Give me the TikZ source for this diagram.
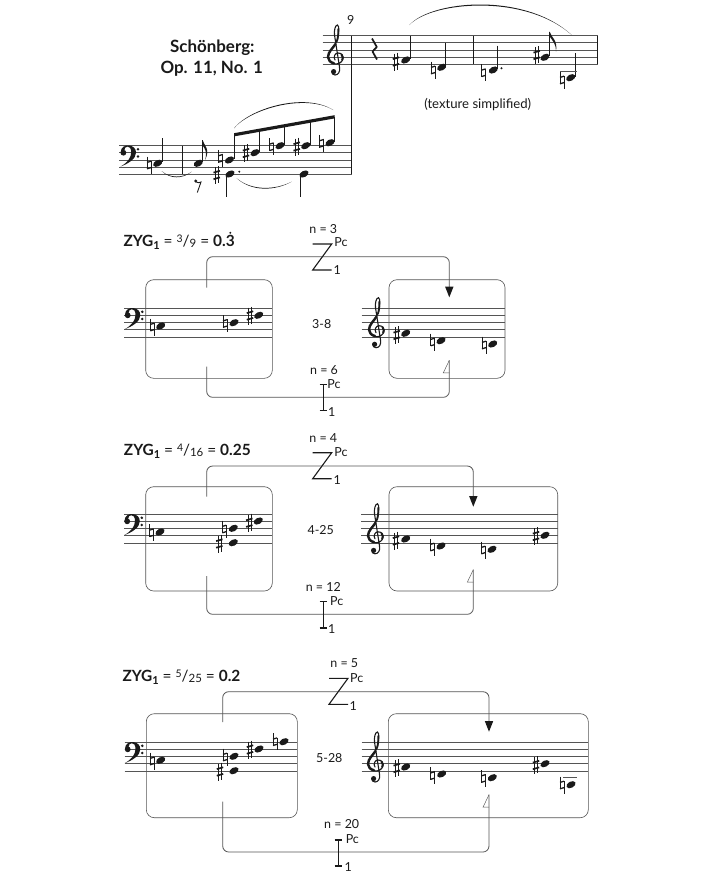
\documentclass[tikz,border=0pt]{standalone}
\usepackage{fontspec}
\setmainfont{Lato}
\usetikzlibrary{arrows.meta,calc}
\definecolor{ink}{HTML}{1A1A1A}
\definecolor{rule}{HTML}{555555}
\newcommand{\fs}[1]{\fontsize{#1}{#1}\selectfont}
% --- music glyphs (all in reference pixels) ---
\newcommand{\staffat}[3]{\foreach \k in {0,1,2,3,4}{\draw[staffline] (#1,#2+7.15*\k) -- (#3,#2+7.15*\k);}}
\newcommand{\notehead}[2]{\fill[ink,shift={(#1,#2)},rotate=28] (0,0) ellipse [x radius=4.9bp,y radius=3.1bp];}
\newcommand{\sharpm}[2]{\begin{scope}[shift={(#1,#2)}]
 \draw[ink,line width=.6bp] (-1.5,-8) -- (-1.5,9) (1.5,-9) -- (1.5,8);
 \draw[ink,line width=1.7bp] (-3.2,-2.4) -- (3.2,-4.2) (-3.2,4.2) -- (3.2,2.4);
 \end{scope}}
\newcommand{\naturalm}[2]{\begin{scope}[shift={(#1,#2)}]
 \draw[ink,line width=.6bp] (-2,-8.5) -- (-2,4.2) (2,-4.2) -- (2,8.5);
 \draw[ink,line width=1.3bp] (-2,-2.6) -- (2,-3.8) (-2,3.8) -- (2,2.6);
 \end{scope}}
\newcommand{\stemm}[3]{\draw[stemline] (#1,#2) -- (#1,#3);}
\newcommand{\trebleclef}[2]{\begin{scope}[shift={(#1,#2)}]
 \draw[ink,line width=1.1bp,line cap=round] (-1,3) .. controls (-3,0) and (-1,-4) .. (2,-4) .. controls (6,-4) and (7.5,-1) .. (7,1.5) .. controls (6.5,5) and (3,7) .. (0,7) .. controls (-5,7) and (-8,4) .. (-8,0) .. controls (-8,-6) and (-1,-11) .. (1,-16) .. controls (3,-21) and (3.5,-32) .. (1.5,-32) .. controls (-1,-32) and (-2,-26) .. (-1.5,-22) -- (3.5,10) .. controls (4.5,15) and (2,18) .. (-1,18) .. controls (-3,18) and (-4.5,16.5) .. (-4,14.5);
 \draw[ink,line width=2.4bp,line cap=round] (-2,6.3) .. controls (-5.5,5.5) and (-8,3) .. (-8,0) .. controls (-8,-5) and (-3,-9) .. (-.5,-13);
 \draw[ink,line width=2bp,line cap=round] (5.5,-2.5) .. controls (7,-.5) and (7.2,1) .. (6.2,3);
 \draw[ink,line width=1.8bp,line cap=round] (2.2,-28) .. controls (2.6,-24) and (2,-20) .. (1,-16);
 \fill[ink] (-2.4,14.6) circle [radius=2.6bp];
 \end{scope}}
\newcommand{\bassclef}[2]{\begin{scope}[shift={(#1,#2)}]
 \fill[ink] (1.2,7) .. controls (1,1) and (6,-.6) .. (9.5,-.2) .. controls (14,.3) and (16.5,3) .. (16.5,7) .. controls (16.5,13) and (9,18) .. (1,20.8) .. controls (8,17) and (11.7,12) .. (11.7,6.5) .. controls (11.7,2.5) and (10,.9) .. (8,.9) .. controls (6,.9) and (4.8,2.6) .. (5,4.2) -- cycle;
 \fill[ink] (3.9,7) circle [radius=2.9bp];
 \fill[ink] (18.5,3.5) circle [radius=1.4bp] (18.5,10.7) circle [radius=1.4bp];
 \end{scope}}
\newcommand{\slurm}[5]{\fill[ink] #1 .. controls #2 and #3 .. #4 .. controls ($#3+#5$) and ($#2+#5$) .. #1;}
% --- diagram parts ---
\newcommand{\zigzagsign}[4]{% id, x left, y top, y bottom
 \coordinate (#1a) at (#2,#3); \coordinate (#1b) at (#2+19,#3);
 \coordinate (#1c) at (#2,#4); \coordinate (#1d) at (#2+19,#4);
 \draw[sign,line join=miter] (#1a) -- (#1b) -- (#1c) -- (#1d);}
\newcommand{\ibeam}[4]{% id, x centre, y top, y bottom
 \coordinate (#1a) at (#2,#3); \coordinate (#1b) at (#2,#4);
 \draw[sign] (#1a) -- (#1b);
 \draw[sign] ($(#1a)+(-3.8,0)$) -- ($(#1a)+(3.8,0)$);
 \draw[sign] ($(#1b)+(-3.8,0)$) -- ($(#1b)+(3.8,0)$);}
\newcommand{\links}[8]{% id, xl, xr, y top run, y start top, y tip, y start bottom, y bottom run
 \coordinate (#1s) at (#2,#5); \coordinate (#1k) at (#3,#4); \coordinate (#1t) at (#3,#6);
 \draw[link,rounded corners=6bp] (#1s) |- (#1k) -- ($(#1t)+(0,-10)$);
 \fill[ink] (#1t) -- ($(#1t)+(-4.2,-10.6)$) -- ($(#1t)+(4.2,-10.6)$) -- cycle;
 \coordinate (#1u) at (#2,#7); \coordinate (#1v) at (#3,#8); \coordinate (#1w) at (#3,#6+63);
 \draw[link,rounded corners=6bp] (#1u) |- (#1v) -- (#1w);
 \draw[thinhead] (#1w) -- ($(#1w)+(-6,12.5)$) -- ($(#1w)+(0,12.5)$);}
\tikzset{
 staffline/.style={rule,line width=.75bp},
 stemline/.style={ink,line width=.6bp},
 panel/.style={draw=rule,line width=.6bp,rounded corners=8bp,inner sep=0pt,fill=none},
 link/.style={rule,line width=.8bp},
 sign/.style={ink,line width=1.1bp},
 thinhead/.style={rule,line width=.45bp},
 lab/.style={inner sep=0pt,text=ink,font=\fs{12.5}},
 zyg/.style={inner sep=0pt,anchor=west,text=ink,font=\fs{15.5}},
}
\newcommand{\zygline}[3]{{\bfseries ZYG\raisebox{-3pt}{\fs{11}1}} = \raisebox{3.5pt}{\fs{10.5}#1}/\raisebox{-1pt}{\fs{11.5}#2} = {\bfseries #3}}
\begin{document}
\begin{tikzpicture}[x=1bp,y=-1bp]
\useasboundingbox (0,0) rectangle (720,880);
\fill[white] (0,0) rectangle (720,880);
% ===== excerpt =====
\node[inner sep=0pt,text=ink,font=\fs{17}\bfseries] (t1) at (212.3,47.5) {Schönberg:};
\node[inner sep=0pt,text=ink,font=\fs{17}\bfseries] (t2) at (211.7,68.5) {Op. 11, No. 1};
\node[lab] (meas) at (350.7,19.5) {9};
\node[lab,font=\fs{13.2}] (simp) at (477.7,104.5) {(texture simplified)};
\staffat{322.7}{35.7}{597.7}
\staffat{119}{145.7}{351.7}
\draw[ink,line width=1bp] (351.7,35.7) -- (351.7,174.3);
\draw[ink,line width=.8bp] (473.3,35.7) -- (473.3,64.3) (597.7,35.7) -- (597.7,64.3);
\draw[ink,line width=.7bp] (182.7,145.7) -- (182.7,174.3);
\trebleclef{336}{57}
\bassclef{119.5}{145.7}
% upper line
\draw[ink,line width=1.7bp,line join=bevel] (372,38.5) -- (376.8,47) -- (372.5,51.5) -- (377,59.5);
\sharpm{396}{61.5}\notehead{405.7}{60}\stemm{410}{35.7}{59}
\naturalm{433}{70}\notehead{441.7}{67.3}\stemm{445.7}{42.7}{66}
\naturalm{483.7}{72.7}\notehead{493.3}{70}\stemm{497.5}{45.7}{69}
\fill[ink] (501.5,68.3) circle [radius=1.1bp];
\sharpm{536.7}{55}\notehead{545}{57.3}\stemm{549.3}{31.7}{56}
\fill[ink] (549.6,31.7) .. controls (551,37) and (558,40) .. (556,51.5) .. controls (556.3,45) and (553,41) .. (549.6,36.5) -- cycle;
\naturalm{562}{80}\notehead{570.7}{77.7}\stemm{575}{53.3}{77}
\draw[staffline] (560,71.3) -- (577,71.3);
\slurm{(409.3,25)}{(432,0)}{(525,-8)}{(571.7,35)}{(0,1.4)}
% lower line
\naturalm{149}{165}\notehead{157.7}{163.3}\stemm{161.9}{138.3}{162}
\slurm{(161.7,171)}{(170,179.5)}{(183,179)}{(191.7,171.7)}{(0,-1)}
\notehead{198.3}{163.3}\stemm{202.4}{140}{162}
\fill[ink] (202.6,140) .. controls (203.5,145) and (211,149) .. (205,160) .. controls (207.5,152) and (205,149) .. (202.6,145.5) -- cycle;
\fill[ink] (195.7,181) circle [radius=1.6bp];
\draw[ink,line width=.9bp] (195.7,181.8) .. controls (197.5,183) and (199.5,183) .. (201,182) -- (197.3,192.5);
\naturalm{220.7}{158.3}\notehead{229.5}{160}\stemm{234.3}{135}{159}
\sharpm{246}{153}\notehead{255}{152.7}\stemm{259}{130}{152}
\naturalm{271.7}{146.7}\notehead{280}{145.7}\stemm{284.3}{125.5}{145}
\sharpm{296.7}{146.5}\notehead{305.7}{145.7}\stemm{310}{121}{145}
\naturalm{321.7}{143.3}\notehead{330}{142.7}\stemm{334.3}{117}{142}
\fill[ink] (234,133.2) -- (334.6,115.2) -- (334.6,118.4) -- (234,136.4) -- cycle;
\slurm{(234,128.3)}{(250,108)}{(305,92)}{(333.3,110)}{(0,1.2)}
\sharpm{216.7}{175}\notehead{230}{174}\stemm{226.2}{175}{196.7}
\fill[ink] (239.3,171.7) circle [radius=1.1bp];
\notehead{304}{174}\stemm{299.8}{175}{196.7}
\slurm{(236.7,178.3)}{(252,192)}{(275,191)}{(291.7,181.7)}{(0,-1)}
% ===== set 3-8 =====
\node[zyg] (z1) at (123.3,242) {\zygline{3}{9}{0.3}};
\fill[ink] (230.3,232.8) circle [radius=1.1bp];
\node[lab] (n1a) at (323.3,229) {n = 3};
\node[lab] (n1b) at (324,370) {n = 6};
\node[lab] (pc1a) at (341,242.5) {Pc}; \node[lab] (one1a) at (337.3,270.5) {1};
\node[lab] (pc1b) at (334,384) {Pc}; \node[lab] (one1b) at (331.7,412) {1};
\node[lab] (c1) at (321.7,324) {3-8};
\node[panel,minimum width=126.6bp,minimum height=98.6bp] (l1) at (209,329) {};
\node[panel,minimum width=116bp,minimum height=98.6bp] (r1) at (447,329) {};
\links{A}{206.7}{449.3}{256.7}{287.7}{297.3}{366.7}{397.3}
\zigzagsign{ZA}{312.7}{244}{270}
\ibeam{IA}{323.3}{384.3}{410.7}
\staffat{124}{308.3}{272.3}
\staffat{361.7}{308.3}{505}
\bassclef{123.8}{308.3}\trebleclef{377}{329.7}
\naturalm{152.3}{327}\notehead{160.7}{326}
\naturalm{225}{323.5}\notehead{234}{322.7}
\sharpm{250}{315.5}\notehead{258.7}{315.3}
\sharpm{396.7}{335}\notehead{405.7}{333.3}
\naturalm{432.7}{342}\notehead{441}{340.7}
\naturalm{484}{345}\notehead{492.7}{344}
% ===== set 4-25 =====
\node[zyg] (z2) at (123.7,451) {\zygline{4}{16}{0.25}};
\node[lab] (n2a) at (323.3,438.3) {n = 4};
\node[lab] (n2b) at (323.3,586.7) {n = 12};
\node[lab] (pc2a) at (341,452) {Pc}; \node[lab] (one2a) at (337.3,480) {1};
\node[lab] (pc2b) at (336.7,601) {Pc}; \node[lab] (one2b) at (331.7,629.3) {1};
\node[lab] (c2) at (320.7,530) {4-25};
\node[panel,minimum width=126.6bp,minimum height=104.3bp] (l2) at (209,538.85) {};
\node[panel,minimum width=168.7bp,minimum height=104.3bp] (r2) at (473.35,538.85) {};
\links{B}{206.7}{473.3}{466}{496.7}{506.7}{576}{614.3}
\zigzagsign{ZB}{312.7}{452.7}{478.7}
\ibeam{IB}{323.3}{601.7}{628}
\staffat{124}{514.3}{272.3}
\staffat{361}{514.3}{557.7}
\bassclef{123.3}{514.3}\trebleclef{376}{535.8}
\naturalm{151.7}{532.7}\notehead{160}{532}
\naturalm{224.3}{529}\notehead{233.3}{528.3}
\sharpm{219.3}{543.5}\notehead{233.3}{542.7}
\sharpm{249.3}{522.7}\notehead{258.3}{521}
\sharpm{396}{540.5}\notehead{405.7}{539}
\naturalm{432.3}{547}\notehead{441}{546}
\naturalm{483.3}{550}\notehead{492}{549.3}
\sharpm{536}{536}\notehead{545}{535.3}
% ===== set 5-28 =====
\node[zyg] (z3) at (122.3,677) {\zygline{5}{25}{0.2}};
\node[lab] (n3a) at (344.3,663.3) {n = 5};
\node[lab] (n3b) at (341.7,824.3) {n = 20};
\node[lab] (pc3a) at (356.7,678.3) {Pc}; \node[lab] (one3a) at (353.3,706) {1};
\node[lab] (pc3b) at (352.3,839.3) {Pc}; \node[lab] (one3b) at (348.3,867.3) {1};
\node[lab] (c3) at (329.3,758.3) {5-28};
\node[panel,minimum width=151bp,minimum height=104bp] (l3) at (221.8,765.7) {};
\node[panel,minimum width=200bp,minimum height=104bp] (r3) at (488.3,765.7) {};
\links{C}{222.7}{489}{691.7}{722}{731.7}{801.7}{852}
\zigzagsign{ZC}{329}{678.3}{704.3}
\ibeam{IC}{338.3}{840}{866}
\staffat{124.5}{742.3}{297.3}
\staffat{361.7}{742.3}{588.3}
\bassclef{123.8}{742.3}\trebleclef{376}{764}
\naturalm{152}{761}\notehead{160.7}{760.3}
\naturalm{225}{757}\notehead{234}{756.3}
\sharpm{220}{771.5}\notehead{234}{770.7}
\sharpm{250}{749.5}\notehead{259}{749}
\naturalm{275}{741.7}\notehead{284}{741.7}
\sharpm{396.7}{768}\notehead{405.7}{767}
\naturalm{432.7}{775.5}\notehead{441.7}{774}
\naturalm{483.3}{778.5}\notehead{492.3}{777.7}
\sharpm{536}{765}\notehead{545}{763.7}
\naturalm{562}{785}\notehead{571}{784.7}
\draw[staffline] (563.3,777.7) -- (576.7,777.7);
\end{tikzpicture}
\end{document}
